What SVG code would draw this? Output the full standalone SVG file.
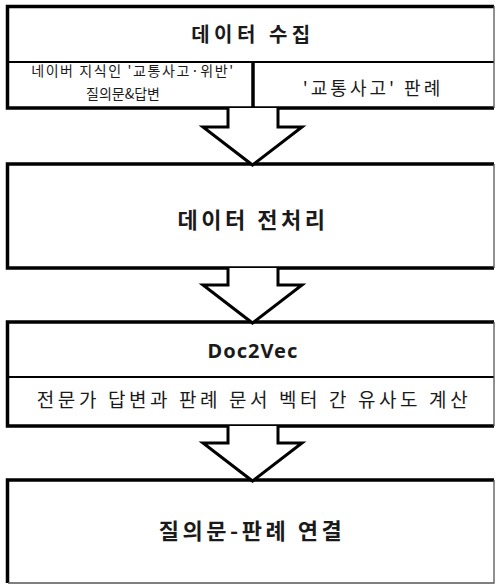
<svg xmlns="http://www.w3.org/2000/svg" width="496" height="585" viewBox="0 0 496 585">
<style>
.box{fill:#fff;stroke:none}
.edge{stroke:#000;stroke-width:3.5;fill:none}
.thin{stroke:#000;stroke-width:2;fill:none}
.rim{stroke:#555;stroke-width:1.3;fill:none}
.arrow{fill:#fff;stroke:#000;stroke-width:3;stroke-linejoin:miter}
text{font-family:"Noto Sans CJK KR","Noto Sans",sans-serif;fill:#1a1a1a;text-anchor:middle}
.title{font-weight:bold}
</style>
<rect width="496" height="585" fill="#fff"/>
<g id="node-collect">
<rect class="box" x="8" y="6" width="486" height="102"/>
<path class="edge" d="M494,6.5 H7.5 V108 H494"/>
<path class="thin" d="M8,62 H494"/>
<path class="edge" d="M253,62 V108"/>
<path class="rim" d="M494,6 V108"/>
<text class="title" x="253" y="42" font-size="20" letter-spacing="4.5">데이터 수집</text>
<text x="133" y="76" font-size="14" letter-spacing="1.6">네이버 지식인 '교통사고·위반'</text>
<text x="123" y="99" font-size="14">질의문&amp;답변</text>
<text x="373" y="95" font-size="18" letter-spacing="3">'교통사고' 판례</text>
</g>
<g id="node-preprocess">
<rect class="box" x="8" y="164" width="486" height="104"/>
<path class="edge" d="M494,164 H7.5 V268 H494"/>
<path class="rim" d="M494,164 V268"/>
<text class="title" x="253" y="228" font-size="22" letter-spacing="3.5">데이터 전처리</text>
</g>
<g id="node-doc2vec">
<rect class="box" x="8" y="322" width="486" height="104"/>
<path class="edge" d="M494,322 H7.5 V426 H494"/>
<path class="thin" d="M8,377 H494"/>
<path class="rim" d="M494,322 V426"/>
<text class="title" x="253" y="358" font-size="20" letter-spacing="1" style="font-family:'Noto Sans',sans-serif">Doc2Vec</text>
<text x="254" y="407" font-size="19" letter-spacing="3.6">전문가 답변과 판례 문서 벡터 간 유사도 계산</text>
</g>
<g id="node-link">
<rect class="box" x="8" y="480" width="486" height="103"/>
<path class="edge" d="M494,480 H7.5 V583"/>
<path class="rim" d="M494,480 V583 H8"/>
<text class="title" x="252" y="539" font-size="22" letter-spacing="3.5">질의문-판례 연결</text>
</g>
<g id="connectors">
<path class="arrow" d="M228,108 V127 H203 L252.5,165 L302,127 H278 V108"/>
<path class="arrow" d="M228,268 V285 H203 L252.5,323 L302,285 H278 V268"/>
<path class="arrow" d="M228,426 V443 H203 L252.5,481 L302,443 H278 V426"/>
</g>
</svg>
